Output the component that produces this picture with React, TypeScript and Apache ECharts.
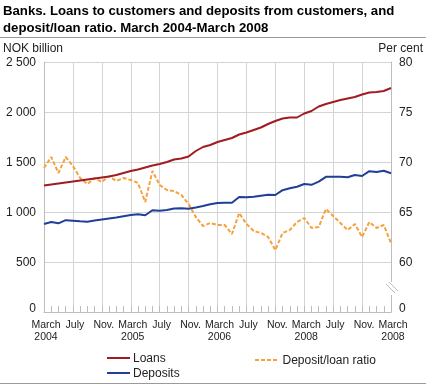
import React, { useEffect, useRef } from "react";
import * as echarts from "echarts";

const titleText = "Banks. Loans to customers and deposits from customers, and\ndeposit/loan ratio. March 2004-March 2008";

const months = [
  "2004-03","2004-04","2004-05","2004-06","2004-07","2004-08","2004-09","2004-10","2004-11","2004-12",
  "2005-01","2005-02","2005-03","2005-04","2005-05","2005-06","2005-07","2005-08","2005-09","2005-10","2005-11","2005-12",
  "2006-01","2006-02","2006-03","2006-04","2006-05","2006-06","2006-07","2006-08","2006-09","2006-10","2006-11","2006-12",
  "2007-01","2007-02","2007-03","2007-04","2007-05","2007-06","2007-07","2007-08","2007-09","2007-10","2007-11","2007-12",
  "2008-01","2008-02","2008-03",
];

const xTickLabels = [
  "March\n2004", "July", "Nov.", "March\n2005", "July", "Nov.", "March\n2006",
  "July", "Nov.", "March\n2008", "July", "Nov.", "March\n2008",
];

const loans = [
  1265, 1275, 1285, 1295, 1305, 1315, 1325, 1335, 1345, 1355,
  1370, 1390, 1410, 1425, 1445, 1465, 1480, 1500, 1525, 1535,
  1555, 1610, 1650, 1670, 1700, 1720, 1740, 1775, 1795, 1820,
  1845, 1880, 1910, 1935, 1945, 1945, 1985, 2010, 2055, 2080,
  2100, 2120, 2135, 2150, 2175, 2195, 2200, 2210, 2240,
];

const deposits = [
  880, 900, 887, 918, 913, 907, 903, 915, 925, 935,
  945, 958, 970, 977, 967, 1018, 1013, 1020, 1035, 1037,
  1033, 1045, 1060, 1078, 1090, 1093, 1093, 1150, 1147, 1153,
  1163, 1172, 1170, 1218, 1237, 1253, 1280, 1272, 1303, 1352,
  1352, 1352, 1347, 1370, 1360, 1408, 1400, 1413, 1388,
];

const ratio = [
  69.4, 70.5, 68.9, 70.5, 69.6, 68.4, 67.8, 68.4, 68.0, 68.6,
  68.1, 68.4, 68.2, 67.9, 66.0, 69.1, 67.7, 67.2, 67.1, 66.7,
  65.8, 64.5, 63.6, 63.9, 63.7, 63.7, 62.8, 64.9, 63.8, 63.1,
  62.9, 62.5, 61.2, 62.9, 63.2, 64.0, 64.4, 63.4, 63.5, 65.3,
  64.6, 63.9, 63.2, 63.8, 62.5, 64.0, 63.4, 63.7, 61.9,
];

const FONT = "'Liberation Sans', Arial, sans-serif";
const GRID = "#d4d4d4";
const SOLID_ICON = "path://M0,0H23V2H0Z";
const DASH_ICON = "path://M0,0H4V2H0Z M6,0H10V2H6Z M12,0H16V2H12Z M18,0H22V2H18Z";

const zeroRich = { z: { padding: [0, 0, 8, 0], fontSize: 12, color: "#222", fontFamily: FONT } };

export default function App() {
  const ref = useRef<HTMLDivElement>(null);
  useEffect(() => {
    if (!ref.current) return;
    const chart = echarts.init(ref.current, undefined, { renderer: "svg" });
    chart.setOption({
      animation: false,
      textStyle: { fontFamily: FONT },
      title: {
        text: titleText,
        left: 3,
        top: 2,
        padding: 0,
        textStyle: { fontFamily: FONT, fontSize: 13.2, fontWeight: "bold", color: "#000", lineHeight: 17 },
      },
      grid: { left: 44, right: 35, top: 62, bottom: 73, containLabel: false },
      legend: [
        {
          data: ["Loans", "Deposits"],
          orient: "vertical",
          left: 107,
          top: 351,
          icon: SOLID_ICON,
          itemWidth: 23,
          itemHeight: 2,
          itemGap: 1,
          padding: 0,
          textStyle: { fontFamily: FONT, fontSize: 12, color: "#222", lineHeight: 14, padding: [0, 0, 0, -2] },
        },
        {
          data: ["Deposit/loan ratio"],
          left: 255,
          top: 353,
          icon: DASH_ICON,
          itemWidth: 23,
          itemHeight: 2,
          padding: 0,
          textStyle: { fontFamily: FONT, fontSize: 12, color: "#222", lineHeight: 14 },
        },
      ],
      xAxis: {
        type: "category",
        data: months,
        boundaryGap: false,
        axisLine: { show: true, lineStyle: { color: "#bdbdbd", width: 1 } },
        axisTick: { show: true, inside: true, length: 6, interval: 0, lineStyle: { color: "#bdbdbd" } },
        axisLabel: {
          interval: 3,
          margin: 6,
          fontSize: 10.5,
          lineHeight: 12,
          color: "#222",
          fontFamily: FONT,
          padding: [0, 0, 0, 4],
          formatter: (_v: string, i: number) => xTickLabels[Math.round(i / 4)] ?? "",
        },
        splitLine: { show: true, interval: 3, lineStyle: { color: GRID, width: 1 } },
      },
      yAxis: [
        {
          type: "value",
          min: 0,
          max: 2500,
          interval: 500,
          position: "left",
          axisLine: { show: true, lineStyle: { color: "#bdbdbd" } },
          axisTick: { show: false },
          axisLabel: {
            margin: 8,
            fontSize: 12,
            color: "#222",
            fontFamily: FONT,
            rich: zeroRich,
            formatter: (v: number) =>
              v === 0 ? "{z|0}" : v >= 1000 ? `${Math.floor(v / 1000)} ${String(v % 1000).padStart(3, "0")}` : String(v),
          },
          splitLine: { show: true, lineStyle: { color: GRID, width: 1 } },
        },
        {
          type: "value",
          min: 55,
          max: 80,
          interval: 5,
          position: "right",
          axisLine: { show: true, lineStyle: { color: "#bdbdbd" } },
          axisTick: { show: false },
          axisLabel: {
            margin: 8,
            fontSize: 12,
            color: "#222",
            fontFamily: FONT,
            rich: zeroRich,
            formatter: (v: number) => (v === 55 ? "{z|0}" : String(v)),
          },
          splitLine: { show: false },
        },
      ],
      series: [
        {
          name: "Loans",
          type: "line",
          data: loans,
          symbol: "none",
          yAxisIndex: 0,
          lineStyle: { color: "#a01c22", width: 2 },
          itemStyle: { color: "#a01c22" },
          z: 3,
        },
        {
          name: "Deposits",
          type: "line",
          data: deposits,
          symbol: "none",
          yAxisIndex: 0,
          lineStyle: { color: "#1f3f98", width: 2 },
          itemStyle: { color: "#1f3f98" },
          z: 3,
        },
        {
          name: "Deposit/loan ratio",
          type: "line",
          data: ratio,
          symbol: "none",
          yAxisIndex: 1,
          lineStyle: { color: "#f7a13e", width: 2, type: [4, 2] },
          itemStyle: { color: "#f7a13e" },
          z: 2,
        },
      ],
      graphic: [
        { type: "line", shape: { x1: 0, y1: 37.5, x2: 426, y2: 37.5 }, style: { stroke: "#9a9a9a", lineWidth: 1 } },
        { type: "line", shape: { x1: 0, y1: 383.5, x2: 426, y2: 383.5 }, style: { stroke: "#9a9a9a", lineWidth: 1 } },
        { type: "text", left: 3, top: 42, style: { text: "NOK billion", font: `12px ${FONT}`, fill: "#222" } },
        { type: "text", right: 3, top: 42, style: { text: "Per cent", font: `12px ${FONT}`, fill: "#222" } },
        { type: "rect", shape: { x: 387, y: 282, width: 9, height: 13 }, style: { fill: "#fff" }, z: 10 },
        { type: "line", shape: { x1: 386, y1: 284, x2: 395, y2: 293 }, style: { stroke: "#bdbdbd", lineWidth: 1 }, z: 11 },
        { type: "line", shape: { x1: 389, y1: 282, x2: 398, y2: 291 }, style: { stroke: "#bdbdbd", lineWidth: 1 }, z: 11 },
      ],
    });
    return () => chart.dispose();
  }, []);
  return <div ref={ref} style={{ position: "fixed", left: 0, top: 0, width: 426, height: 385 }} />;
}
